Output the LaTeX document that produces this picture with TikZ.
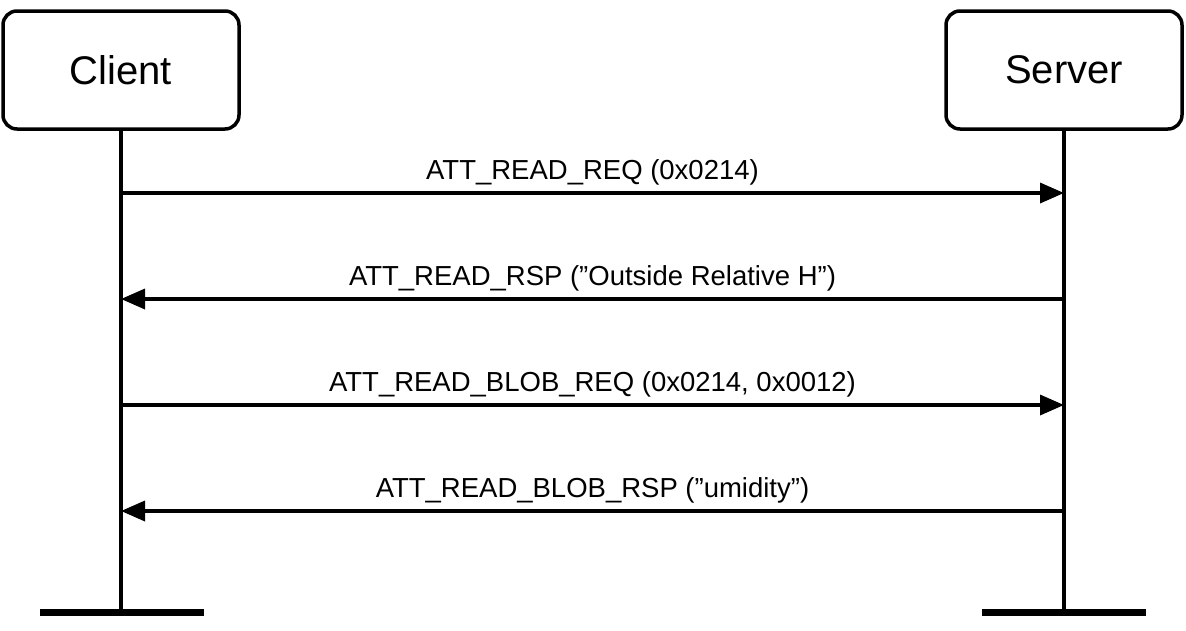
\documentclass[tikz,border=0pt]{standalone}
\usepackage{fontspec}
\setmainfont{Liberation Sans}
\usetikzlibrary{arrows.meta}
\begin{document}
\begin{tikzpicture}[x=1pt,y=-1pt,
  actor/.style={draw,line width=3.5pt,rounded corners=14pt,minimum width=236pt,minimum height=118pt,font=\fontsize{40}{48}\selectfont},
  life/.style={line width=3.5pt},
  bar/.style={line width=7pt},
  msg/.style={line width=3.5pt,-{Triangle[length=24pt,width=20pt]}},
  lbl/.style={font=\fontsize{27.5}{33}\selectfont,above,inner sep=6pt}]
\useasboundingbox (0,0) rectangle (1186,630);
\node[actor] (c) at (121,70) {Client};
\node[actor] (s) at (1064,70) {Server};
\coordinate (ce) at (121,612); \coordinate (se) at (1064,612);
\draw[life] (c.south) -- (ce);
\draw[life] (s.south) -- (se);
\coordinate (cb1) at (40,612); \coordinate (cb2) at (204,612);
\coordinate (sb1) at (982,612); \coordinate (sb2) at (1146,612);
\draw[bar] (cb1) -- (cb2);
\draw[bar] (sb1) -- (sb2);
\foreach \n/\y in {1/193,2/299,3/405,4/511}{
  \coordinate (c\n) at (121,\y); \coordinate (s\n) at (1064,\y);}
\draw[msg] (c1) -- node[lbl]{ATT\_READ\_REQ (0x0214)} (s1);
\draw[msg] (s2) -- node[lbl]{ATT\_READ\_RSP ("Outside Relative H")} (c2);
\draw[msg] (c3) -- node[lbl]{ATT\_READ\_BLOB\_REQ (0x0214, 0x0012)} (s3);
\draw[msg] (s4) -- node[lbl]{ATT\_READ\_BLOB\_RSP ("umidity")} (c4);
\end{tikzpicture}
\end{document}
